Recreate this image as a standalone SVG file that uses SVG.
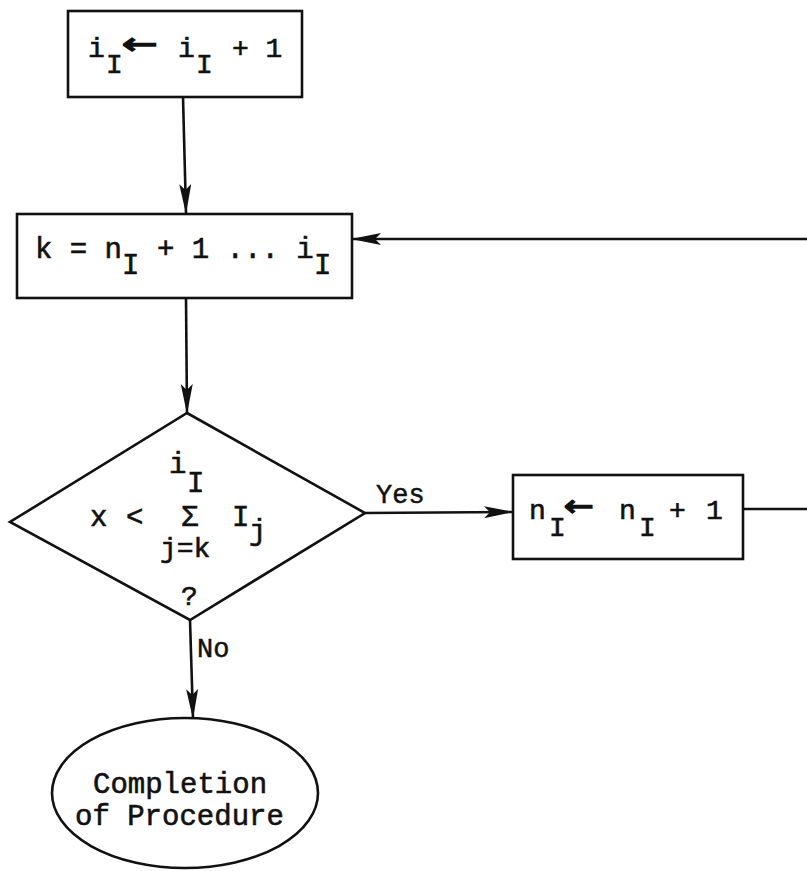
<svg xmlns="http://www.w3.org/2000/svg" width="807" height="871" viewBox="0 0 807 871">
<style>
.shape{fill:none;stroke:#111;stroke-width:2.6}
.line{fill:none;stroke:#111;stroke-width:2.6}
.t{font-family:"Liberation Mono","DejaVu Sans Mono",monospace;font-size:28px;fill:#111;stroke:#111;stroke-width:0.6}
.t29{font-family:"Liberation Mono","DejaVu Sans Mono",monospace;font-size:29px;fill:#111;stroke:#111;stroke-width:0.6}
.lbl{font-family:"Liberation Mono","DejaVu Sans Mono",monospace;font-size:27px;fill:#111;stroke:#111;stroke-width:0.5}
.arr{font-family:"DejaVu Sans","Liberation Mono",sans-serif;font-size:30px;fill:#111;stroke:#111;stroke-width:1.4}
</style>
<defs>
<marker id="ah" markerUnits="userSpaceOnUse" markerWidth="30" markerHeight="12" refX="29" refY="6" orient="auto">
<path d="M0,0 L30,6 L0,12 L6,6 z" fill="#111"/>
</marker>
</defs>
<rect width="807" height="871" fill="#fff"/>
<g id="connectors">
<line class="line" x1="183" y1="97" x2="186" y2="213" marker-end="url(#ah)"/>
<line class="line" x1="186" y1="298" x2="187" y2="413" marker-end="url(#ah)"/>
<line class="line" x1="365" y1="513" x2="513" y2="512" marker-end="url(#ah)"/>
<line class="line" x1="807" y1="239" x2="352" y2="239" marker-end="url(#ah)"/>
<line class="line" x1="743" y1="509" x2="807" y2="509"/>
<line class="line" x1="190" y1="620" x2="193" y2="718" marker-end="url(#ah)"/>
<text class="lbl" x="376" y="503">Yes</text>
<text class="lbl" x="197" y="657">No</text>
</g>
<g id="inc_i">
<rect class="shape" x="68" y="11" width="234" height="86"/>
<text class="t" x="88" y="57">i</text>
<text class="t" x="106" y="73">I</text>
<text class="arr" x="122" y="54" textLength="36" lengthAdjust="spacingAndGlyphs">←</text>
<text class="t" x="178" y="57">i</text>
<text class="t" x="196" y="73">I</text>
<text class="t" x="232" y="57">+ 1</text>
</g>
<g id="loop_k">
<rect class="shape" x="17" y="214" width="335" height="84"/>
<text class="t29" x="35" y="258">k = n</text>
<text class="t29" x="122" y="274">I</text>
<text class="t29" x="157" y="258">+ 1 ... i</text>
<text class="t29" x="314" y="274">I</text>
</g>
<g id="decision">
<polygon class="shape" points="187,413 365,513 190,620 10,522"/>
<text class="t29" x="169" y="473">i</text>
<text class="t29" x="187" y="492">I</text>
<text class="t29" x="90" y="526">x</text>
<text class="t29" x="126" y="526">&lt;</text>
<text class="t29" x="181" y="526">Σ</text>
<text class="t29" x="232" y="526">I</text>
<text class="t29" x="249" y="540">j</text>
<text class="t" x="160" y="557">j=k</text>
<text class="t" x="181" y="605">?</text>
</g>
<g id="inc_n">
<rect class="shape" x="513" y="475" width="230" height="84"/>
<text class="t" x="529" y="519">n</text>
<text class="t" x="549" y="536">I</text>
<text class="arr" x="564" y="516" textLength="30" lengthAdjust="spacingAndGlyphs">←</text>
<text class="t" x="619" y="519">n</text>
<text class="t" x="639" y="536">I</text>
<text class="t" x="669" y="519">+</text>
<text class="t" x="706" y="519">1</text>
</g>
<g id="completion">
<ellipse class="shape" cx="185" cy="793" rx="133" ry="75"/>
<text class="t29" x="93" y="793">Completion</text>
<text class="t29" x="75" y="825">of Procedure</text>
</g>
</svg>
